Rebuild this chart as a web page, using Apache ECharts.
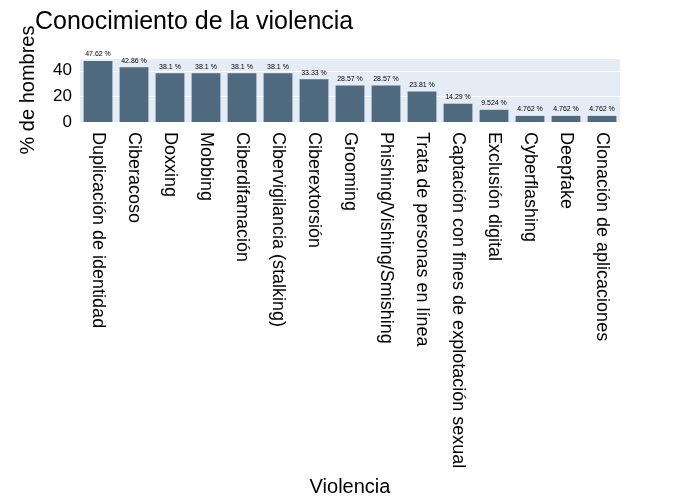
<!DOCTYPE html>
<html><head><meta charset="utf-8">
<script src="https://cdn.jsdelivr.net/npm/echarts@6/dist/echarts.min.js"></script>
<style>html,body{margin:0;padding:0;background:#fff}#c{width:700px;height:500px}</style>
</head><body><div id="c"></div>
<script>
const categories = ["Duplicación de identidad","Ciberacoso","Doxxing","Mobbing","Ciberdifamación","Cibervigilancia (stalking)","Ciberextorsión","Grooming","Phishing/Vishing/Smishing","Trata de personas en línea","Captación con fines de explotación sexual","Exclusión digital","Cyberflashing","Deepfake","Clonación de aplicaciones"];
const values = [47.62,42.86,38.1,38.1,38.1,38.1,33.33,28.57,28.57,23.81,14.29,9.524,4.762,4.762,4.762];
const yTicks = [0,20,40];
const chart = echarts.init(document.getElementById('c'));
const font = '"Liberation Sans", Arial, sans-serif';
chart.setOption({
  animation:false,
  textStyle:{fontFamily:font},
  title:{text:'Conocimiento de la violencia',left:30,top:5,textStyle:{fontSize:25,fontWeight:'normal',color:'#000',fontFamily:font}},
  grid:{left:80,right:80,top:58,height:64,backgroundColor:'#e5ecf6',show:true,borderWidth:0},
  xAxis:{type:'category',data:categories,name:'Violencia',nameLocation:'middle',nameGap:355,
    nameTextStyle:{fontSize:20,color:'#000'},
    axisLine:{show:false},axisTick:{show:false},
    axisLabel:{rotate:-90,interval:0,fontSize:18,color:'#000',margin:10}},
  yAxis:{type:'value',min:0,max:50,interval:20,name:'% de hombres',nameLocation:'middle',nameGap:42,
    nameTextStyle:{fontSize:20,color:'#000'},
    axisLabel:{fontSize:17,color:'#000',showMaxLabel:false,margin:8},
    splitLine:{lineStyle:{color:'#fff',width:1}}},
  series:[{type:'bar',data:values,barCategoryGap:'20%',itemStyle:{color:'#506a80'},
    label:{show:true,position:'top',distance:3,fontSize:7,color:'#000',formatter:p=>p.value+' %'}}]
});
</script></body></html>
